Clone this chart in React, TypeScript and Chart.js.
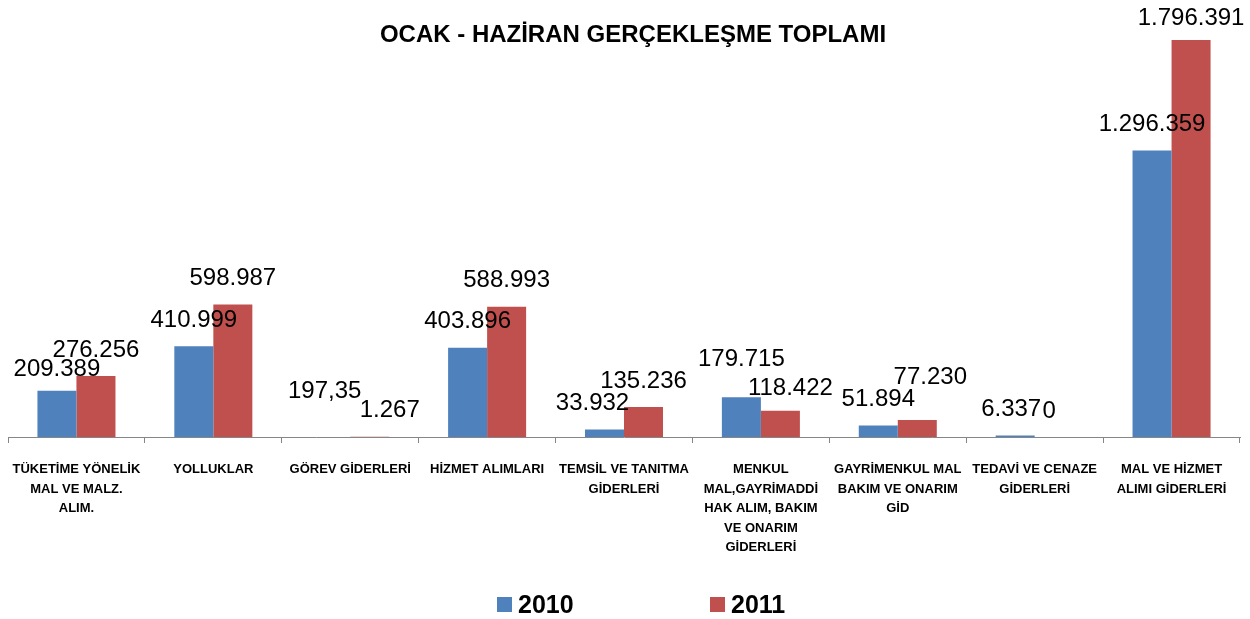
import React, { useEffect, useRef } from "react";
import { Chart, registerables } from "chart.js";

Chart.register(...registerables);

const categories: string[][] = [
  ["TÜKETİME YÖNELİK", "MAL VE MALZ.", "ALIM."],
  ["YOLLUKLAR"],
  ["GÖREV GİDERLERİ"],
  ["HİZMET ALIMLARI"],
  ["TEMSİL VE TANITMA", "GİDERLERİ"],
  ["MENKUL", "MAL,GAYRİMADDİ", "HAK ALIM, BAKIM", "VE ONARIM", "GİDERLERİ"],
  ["GAYRİMENKUL MAL", "BAKIM VE ONARIM", "GİD"],
  ["TEDAVİ VE CENAZE", "GİDERLERİ"],
  ["MAL VE HİZMET", "ALIMI GİDERLERİ"],
];

const values2010: number[] = [209389, 410999, 197.35, 403896, 33932, 179715, 51894, 6337, 1296359];
const values2011: number[] = [276256, 598987, 1267, 588993, 135236, 118422, 77230, 0, 1796391];

const seriesNames = ["2010", "2011"];
const seriesColors = ["#4F81BD", "#C0504D"];
const chartTitle = "OCAK - HAZİRAN GERÇEKLEŞME TOPLAMI";

// label nudges (style only): key "datasetIndex-categoryIndex" -> [dx, dy]
const labelNudges: Record<string, [number, number]> = {
  "0-0": [0, 5],
  "0-2": [-6, -20],
  "1-2": [20, 0],
  "0-4": [-12, 0],
  "0-5": [0, -12],
  "1-5": [10, 4],
  "1-6": [13, -17],
  "0-7": [-4, 0],
  "1-7": [-5, 0],
  "1-8": [0, 4],
};

function formatTR(v: number): string {
  const neg = v < 0;
  const abs = Math.abs(v);
  const intPart = Math.floor(abs);
  const frac = Math.round((abs - intPart) * 100);
  const s = String(intPart).replace(/\B(?=(\d{3})+(?!\d))/g, ".");
  let out = s;
  if (frac > 0) {
    out += "," + String(frac).padStart(2, "0").replace(/0$/, "");
  }
  return (neg ? "-" : "") + out;
}

const overlayPlugin = {
  id: "overlay",
  afterDatasetsDraw(chart: any) {
    const ctx = chart.ctx;
    ctx.save();
    // data labels
    ctx.font = "24px 'Liberation Sans', Arial, sans-serif";
    ctx.fillStyle = "#000000";
    ctx.textAlign = "center";
    ctx.textBaseline = "middle";
    chart.data.datasets.forEach((ds: any, di: number) => {
      const meta = chart.getDatasetMeta(di);
      meta.data.forEach((bar: any, i: number) => {
        const n = labelNudges[`${di}-${i}`] || [0, 0];
        ctx.fillText(formatTR(ds.data[i]), bar.x + n[0], bar.y - 26 + n[1]);
      });
    });
    // title
    ctx.font = "bold 24px 'Liberation Sans', Arial, sans-serif";
    ctx.fillText(chartTitle, 633, 35);
    // legend
    const legendX = [497, 710];
    seriesNames.forEach((name, i) => {
      ctx.fillStyle = seriesColors[i];
      ctx.fillRect(legendX[i], 597, 15, 15);
      ctx.fillStyle = "#000000";
      ctx.textAlign = "left";
      ctx.textBaseline = "middle";
      ctx.font = "bold 25px 'Liberation Sans', Arial, sans-serif";
      ctx.fillText(name, legendX[i] + 21, 606);
    });
    ctx.restore();
  },
};

export default function App() {
  const canvasRef = useRef<HTMLCanvasElement | null>(null);

  useEffect(() => {
    if (!canvasRef.current) return;
    const chart = new Chart(canvasRef.current, {
      type: "bar",
      data: {
        labels: categories,
        datasets: [
          {
            label: seriesNames[0],
            data: values2010,
            backgroundColor: seriesColors[0],
            borderWidth: 0,
            categoryPercentage: 0.57,
            barPercentage: 1,
          },
          {
            label: seriesNames[1],
            data: values2011,
            backgroundColor: seriesColors[1],
            borderWidth: 0,
            categoryPercentage: 0.57,
            barPercentage: 1,
          },
        ],
      },
      options: {
        animation: false,
        responsive: true,
        maintainAspectRatio: false,
        layout: { padding: { left: 8, right: 10, top: 27, bottom: 0 } },
        plugins: {
          legend: { display: false },
          title: { display: false },
          tooltip: { enabled: false },
        },
        scales: {
          x: {
            offset: true,
            grid: {
              offset: true,
              drawOnChartArea: false,
              drawTicks: true,
              tickLength: 6,
              color: "#868686",
            },
            border: { color: "#868686", width: 1 },
            ticks: {
              autoSkip: false,
              maxRotation: 0,
              minRotation: 0,
              padding: 17,
              color: "#000000",
              font: {
                family: "'Liberation Sans Narrow', 'Arial Narrow', 'Liberation Sans', sans-serif",
                size: 13,
                weight: "bold",
                lineHeight: 1.5,
              },
            },
            afterFit: (scale: any) => {
              scale.height = 182;
              scale.paddingLeft = 0;
              scale.paddingRight = 0;
            },
          },
          y: {
            display: false,
            min: 0,
            max: 1855000,
          },
        },
      },
      plugins: [overlayPlugin],
    });
    return () => chart.destroy();
  }, []);

  return (
    <div style={{ position: "absolute", left: 0, top: 0, width: 1250, height: 619, background: "#ffffff" }}>
      <canvas ref={canvasRef} />
    </div>
  );
}
